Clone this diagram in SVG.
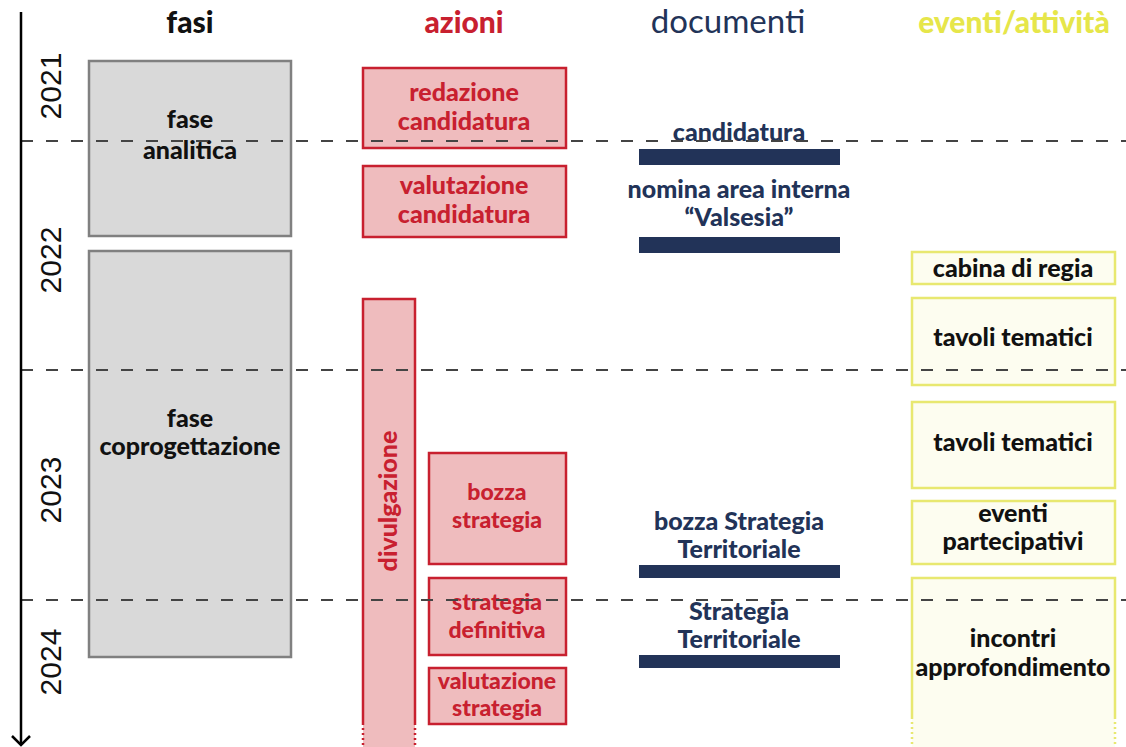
<svg xmlns="http://www.w3.org/2000/svg" width="1126" height="747" viewBox="0 0 1126 747">
<defs>
<style>
text{font-family:Lato,"Noto Sans","Liberation Sans",sans-serif;font-weight:900;text-anchor:middle}
.hdr{font-size:30px}
.yr{font-family:"Liberation Sans",Arial,sans-serif;font-weight:normal;font-size:30px;fill:#111}
.gray{fill:#d9d9d9;stroke:#808080;stroke-width:2.5}
.red{fill:#efbcbe;stroke:#c8202f;stroke-width:2.5}
.rt{fill:#c8202f;font-size:25px}
.rs{fill:#c8202f;font-size:23px}
.bar{fill:#223358}
.nt{fill:#223358;font-size:25px}
.yel{fill:#fdfdf0;stroke:#e8e870;stroke-width:2.5}
.yt{fill:#111;font-size:25px}
.bt{fill:#111;font-size:25px}
.dash{stroke:#444;stroke-width:2;stroke-dasharray:12 13;fill:none}
.dot{stroke-dasharray:2 3}
</style>
</defs>
<rect width="1126" height="747" fill="#fff"/>

<g id="headers">
<text class="hdr" x="190" y="33" fill="#111">fasi</text>
<text class="hdr" x="464" y="33" fill="#c8202f">azioni</text>
<text class="hdr" x="728" y="33" fill="#223358" style="font-weight:normal;font-size:33px">documenti</text>
<text class="hdr" x="1014" y="33" fill="#e6e64a">eventi/attività</text>
</g>

<g id="phase-analitica">
<rect class="gray" x="89" y="61" width="202" height="175"/>
<text class="bt" x="190" y="128">fase</text>
<text class="bt" x="190" y="159">analitica</text>
</g>
<g id="phase-coprogettazione">
<rect class="gray" x="89" y="251" width="202" height="406"/>
<text class="bt" x="190" y="427">fase</text>
<text class="bt" x="190" y="455">coprogettazione</text>
</g>

<g id="act-redazione">
<rect class="red" x="363" y="68" width="203" height="80"/>
<text class="rt" x="464" y="101">redazione</text>
<text class="rt" x="464" y="130">candidatura</text>
</g>
<g id="act-valutazione-cand">
<rect class="red" x="363" y="166" width="203" height="71"/>
<text class="rt" x="464" y="194">valutazione</text>
<text class="rt" x="464" y="223">candidatura</text>
</g>
<g id="act-divulgazione">
<rect x="363" y="299" width="52" height="448" fill="#efbcbe"/>
<path d="M363 723 V299 H415 V723" fill="none" stroke="#c8202f" stroke-width="2.5"/>
<path class="dot" d="M363 723 V747 M415 723 V747" stroke="#c8202f" stroke-width="2.5"/>
<text class="rt" transform="translate(397 501) rotate(-90)">divulgazione</text>
</g>
<g id="act-bozza">
<rect class="red" x="429" y="453" width="137" height="111"/>
<text class="rs" x="497" y="500">bozza</text>
<text class="rs" x="497" y="528">strategia</text>
</g>
<g id="act-definitiva">
<rect class="red" x="429" y="578" width="137" height="77"/>
<text class="rs" x="497" y="610">strategia</text>
<text class="rs" x="497" y="638">definitiva</text>
</g>
<g id="act-valutazione-strat">
<rect class="red" x="429" y="668" width="137" height="56"/>
<text class="rs" x="497" y="689">valutazione</text>
<text class="rs" x="497" y="716">strategia</text>
</g>

<g id="doc-candidatura">
<text class="nt" x="739" y="141">candidatura</text>
<rect class="bar" x="639" y="149" width="201" height="16"/>
</g>
<g id="doc-nomina">
<text class="nt" x="739" y="198">nomina area interna</text>
<text class="nt" x="739" y="226">“Valsesia”</text>
<rect class="bar" x="639" y="237" width="201" height="16"/>
</g>
<g id="doc-bozza">
<text class="nt" x="739" y="530">bozza Strategia</text>
<text class="nt" x="739" y="558">Territoriale</text>
<rect class="bar" x="639" y="565" width="201" height="13"/>
</g>
<g id="doc-strategia">
<text class="nt" x="739" y="620">Strategia</text>
<text class="nt" x="739" y="648">Territoriale</text>
<rect class="bar" x="639" y="655" width="201" height="13"/>
</g>

<g id="ev-cabina">
<rect class="yel" x="912" y="252" width="203" height="32"/>
<text class="yt" x="1013" y="277">cabina di regia</text>
</g>
<g id="ev-tavoli1">
<rect class="yel" x="912" y="298" width="203" height="87"/>
<text class="yt" x="1013" y="346">tavoli tematici</text>
</g>
<g id="ev-tavoli2">
<rect class="yel" x="912" y="402" width="203" height="86"/>
<text class="yt" x="1013" y="451">tavoli tematici</text>
</g>
<g id="ev-eventi">
<rect class="yel" x="912" y="501" width="203" height="63"/>
<text class="yt" x="1013" y="522">eventi</text>
<text class="yt" x="1013" y="550">partecipativi</text>
</g>
<g id="ev-incontri">
<rect x="912" y="578" width="203" height="169" fill="#fdfdf0"/>
<path d="M912 717 V578 H1115 V717" fill="none" stroke="#e8e870" stroke-width="2.5"/>
<path class="dot" d="M912 717 V747 M1115 717 V747" stroke="#e8e870" stroke-width="2.5"/>
<text class="yt" x="1013" y="647">incontri</text>
<text class="yt" x="1013" y="676">approfondimento</text>
</g>

<g id="connectors">
<line class="dash" x1="21" y1="141" x2="1126" y2="141"/>
<line class="dash" x1="21" y1="370" x2="1126" y2="370"/>
<line class="dash" x1="21" y1="600" x2="1126" y2="600"/>
<line x1="21" y1="12" x2="21" y2="745" stroke="#000" stroke-width="2.5"/>
<path d="M12 736 L21 745 L30 736" fill="none" stroke="#000" stroke-width="2.5"/>
</g>

<g id="years">
<text class="yr" transform="translate(61 86) rotate(-90)">2021</text>
<text class="yr" transform="translate(61 260) rotate(-90)">2022</text>
<text class="yr" transform="translate(61 490) rotate(-90)">2023</text>
<text class="yr" transform="translate(61 662) rotate(-90)">2024</text>
</g>
</svg>
